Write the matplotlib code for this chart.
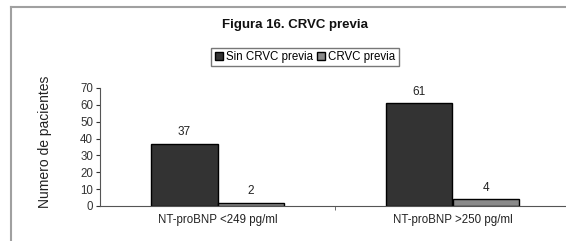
import numpy as np
import matplotlib.pyplot as plt
from matplotlib.lines import Line2D

plt.rcParams['font.family'] = ['Liberation Sans', 'DejaVu Sans']

categorias = ['NT-proBNP <249 pg/ml', 'NT-proBNP >250 pg/ml']
sin_crvc = [37, 61]
con_crvc = [2, 4]
series = ['Sin CRVC previa', 'CRVC previa']

W, H = 566, 241
fig = plt.figure(figsize=(W / 100, H / 100), dpi=100)

# marco gris (arriba e izquierda)
fig.add_artist(Line2D([11 / W, 11 / W], [0, 1 - 7 / H], color='#a0a0a0', lw=1.5))
fig.add_artist(Line2D([11 / W, 1], [1 - 7 / H, 1 - 7 / H], color='#a0a0a0', lw=1.5))

ax = fig.add_axes([100 / W, 35 / H, 470 / W, 118 / H])

x = np.arange(len(categorias))
w = 0.285
b1 = ax.bar(x - w / 2, sin_crvc, w, color='#333333', edgecolor='black', lw=1, label=series[0])
b2 = ax.bar(x + w / 2, con_crvc, w, color='#8a8a8a', edgecolor='black', lw=1, label=series[1])

for bars, vals in [(b1, sin_crvc), (b2, con_crvc)]:
    for b, v in zip(bars, vals):
        ax.annotate(str(v), (b.get_x() + b.get_width() / 2, v), xytext=(0, 4),
                    textcoords='offset points', ha='center', va='bottom',
                    fontsize=8.5, color='#222222')

ax.set_xlim(-0.5, 1.5)
ax.set_ylim(0, 70)
ax.set_yticks(range(0, 71, 10))
ax.set_xticks(x)
ax.set_xticklabels(categorias, fontsize=8.3, color='#222222')
ax.set_xticks([0.5], minor=True)
ax.tick_params(axis='x', which='major', length=0, pad=6)
ax.tick_params(axis='x', which='minor', length=3, color='#555555')
ax.tick_params(axis='y', labelsize=8.3, length=3, colors='#333333', pad=2)
ax.spines['top'].set_visible(False)
ax.spines['right'].set_visible(False)
ax.spines['left'].set_color('#555555')
ax.spines['bottom'].set_color('#555555')

fig.text(45 / W, 1 - 142 / H, 'Numero de pacientes', rotation=90, ha='center', va='center',
         fontsize=10, color='#222222')
fig.text(295 / W, 1 - 25 / H, 'Figura 16. CRVC previa', ha='center', va='center',
         fontsize=9.5, fontweight='bold', color='#111111')

fig.legend(handles=[b1, b2], labels=series, loc='center', bbox_to_anchor=(305 / W, 1 - 57 / H),
           ncol=2, fontsize=8.3, frameon=True, fancybox=False, edgecolor='#555555',
           handlelength=0.7, handleheight=0.7, handletextpad=0.3, columnspacing=0.3,
           borderpad=0.3, borderaxespad=0)

fig.savefig('out.png', dpi=100)
